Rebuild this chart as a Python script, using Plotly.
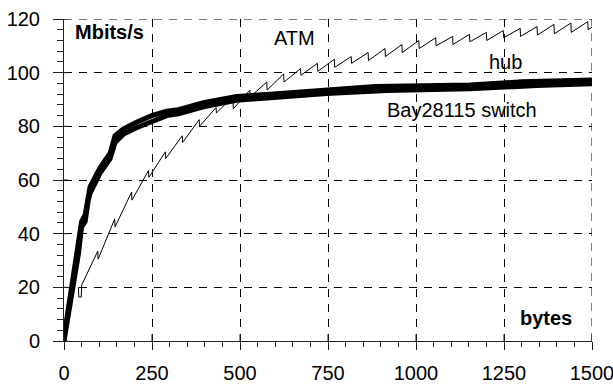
import plotly.graph_objects as go

# ---- data ----
atm_x = [41, 42, 49, 50, 96, 97, 144, 145, 192, 193, 240, 241, 288, 289, 336, 337,
         384, 385, 432, 433, 480, 481, 528, 529, 576, 577, 624, 625, 672, 673, 720, 721,
         768, 769, 816, 817, 864, 865, 912, 913, 960, 961, 1008, 1009, 1056, 1057,
         1104, 1105, 1152, 1153, 1200, 1201, 1248, 1249, 1296, 1297, 1344, 1345,
         1392, 1393, 1440, 1441, 1488, 1489, 1500]
atm_y = [20, 16.4, 16.4, 20.8, 33.5, 30.5, 45.5, 42.5, 55.5, 52.5, 63.5, 61, 70.5, 68, 76.5, 74,
         82.5, 80, 87, 85, 91, 86.5, 93.5, 91, 96.5, 93.5, 99.5, 96.5, 101.5, 99, 103.5, 100.5,
         105, 102, 106, 103.5, 107.5, 104.5, 109, 106, 110.5, 107.5, 112, 109, 113, 110,
         113.5, 110.5, 114.3, 111.5, 115, 112, 115.7, 113, 116.5, 113.5, 117.2, 114,
         118, 114.5, 118.5, 115, 119, 116, 117]

switch_x = [0, 8, 22, 31, 41, 50, 60, 69, 74, 102, 131, 145, 168, 206, 249, 292, 325,
            396, 490, 585, 680, 746, 917, 1153, 1343, 1500]
switch_y = [0, 6.5, 16.5, 25, 32.5, 42.5, 44.5, 52.5, 55, 62.5, 68, 74, 77, 79.5, 82, 84, 84.7,
            87.3, 89.7, 90.7, 91.6, 92.2, 93.4, 94.0, 95.2, 95.9]

hub_x = [0, 8, 22, 31, 41, 50, 60, 69, 74, 102, 131, 145, 168, 206, 249, 292, 325,
         396, 490, 585, 680, 746, 884, 1153, 1300, 1500]
hub_y = [1.5, 8.5, 18.5, 27.5, 35, 44.5, 47, 54.5, 57.5, 64.5, 70, 76.5, 79, 81.5, 84, 85.6, 86.2,
         88.8, 91.1, 92, 93, 93.5, 94.8, 95.4, 96.6, 97.3]

x_ticks = [0, 250, 500, 750, 1000, 1250, 1500]
y_ticks = [0, 20, 40, 60, 80, 100, 120]

labels = [
    dict(text="<b>Mbits/s</b>", x=25, y=115),
    dict(text="<b>bytes</b>", x=1290, y=8.5),
    dict(text="ATM", x=591, y=113),
    dict(text="hub", x=1202, y=104),
    dict(text="Bay28115 switch", x=912, y=86.1),
]

FONT = "Arial, Liberation Sans, sans-serif"

fig = go.Figure()
fig.add_trace(go.Scatter(x=switch_x, y=switch_y, mode="lines",
                         line=dict(color="black", width=5), hoverinfo="skip"))
fig.add_trace(go.Scatter(x=hub_x, y=hub_y, mode="lines",
                         line=dict(color="black", width=5), hoverinfo="skip"))
fig.add_trace(go.Scatter(x=atm_x, y=atm_y, mode="lines",
                         line=dict(color="black", width=1), hoverinfo="skip"))

for lb in labels:
    fig.add_annotation(text=lb["text"], x=lb["x"], y=lb["y"], xref="x", yref="y",
                       xanchor="left", yanchor="middle", showarrow=False,
                       font=dict(family=FONT, size=20, color="black"))

# upper halves of the crossing major ticks on the x axis / inner halves on y axis
for t in x_ticks:
    fig.add_shape(type="line", xref="x", yref="y", x0=t, x1=t,
                  ysizemode="pixel", yanchor=0, y0=0, y1=7,
                  line=dict(color="#222", width=1))
for t in y_ticks:
    fig.add_shape(type="line", yref="y", xref="x", y0=t, y1=t,
                  xsizemode="pixel", xanchor=0, x0=0, x1=4,
                  line=dict(color="#222", width=1))

# dashed borders at the top (120) and right (1500) edges
fig.add_shape(type="line", xref="x", yref="y", x0=x_ticks[0], x1=x_ticks[-1],
              y0=y_ticks[-1], y1=y_ticks[-1], line=dict(color="black", width=1, dash="8px,7px"))
fig.add_shape(type="line", xref="x", yref="y", x0=x_ticks[-1], x1=x_ticks[-1],
              y0=y_ticks[0], y1=y_ticks[-1], line=dict(color="black", width=1, dash="8px,7px"))

fig.update_layout(
    width=613, height=385,
    margin=dict(l=64, r=21, t=19, b=44),
    paper_bgcolor="white", plot_bgcolor="white",
    showlegend=False,
    font=dict(family=FONT, size=20, color="black"),
    xaxis=dict(range=[0, 1500], tickvals=x_ticks, ticktext=[str(v) for v in x_ticks],
               showline=True, linecolor="#222", linewidth=1,
               ticks="outside", ticklen=8, tickcolor="#222",
               minor=dict(dtick=50, ticks="outside", ticklen=5, tickcolor="#222", showgrid=False),
               showgrid=True, gridcolor="black", gridwidth=1, griddash="8px,7px",
               zeroline=False, ticklabelstandoff=6, ticklabeloverflow="allow",
               automargin=False, fixedrange=True),
    yaxis=dict(range=[0, 120], tickvals=y_ticks, ticktext=[str(v) for v in y_ticks],
               showline=True, linecolor="#222", linewidth=1,
               ticks="outside", ticklen=10, tickcolor="#222",
               minor=dict(dtick=4, ticks="outside", ticklen=6, tickcolor="#222", showgrid=False),
               showgrid=True, gridcolor="black", gridwidth=1, griddash="8px,7px",
               zeroline=False, ticklabelstandoff=9, ticklabeloverflow="allow",
               automargin=False, fixedrange=True),
)

fig.write_html("out.html")
